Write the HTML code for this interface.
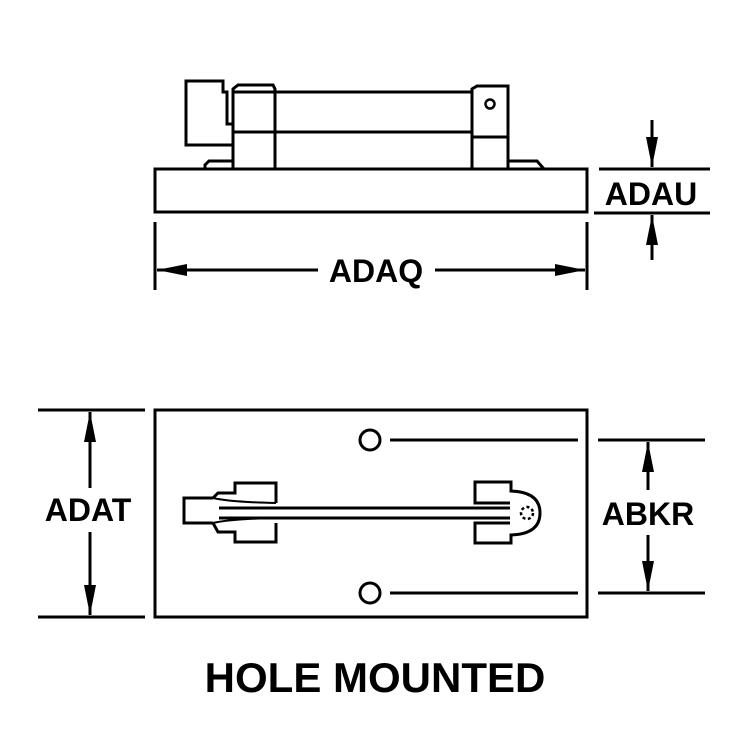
<!DOCTYPE html>
<html><head><style>body{margin:0;background:#fff}svg{display:block}text{font-family:"Liberation Sans",sans-serif;font-weight:bold;fill:#000}</style></head>
<body>
<svg width="752" height="752" viewBox="0 0 752 752" xmlns="http://www.w3.org/2000/svg">
<defs>
<marker id="a" viewBox="0 0 30 12" refX="30" refY="6" markerWidth="30" markerHeight="12" markerUnits="userSpaceOnUse" orient="auto"><path d="M0,0L30,6L0,12z"/></marker>
</defs>
<g fill="none" stroke="#000" stroke-width="3">
<rect x="155" y="169" width="432" height="43"/>
<path d="M233,145H186V81H223V92H227V124H233"/>
<path d="M233,169V89L238,85H273L275,89V169"/>
<path d="M233,92H472M233,132H472"/>
<path d="M472,169V89L477,86H508V169M472,137H508"/>
<circle cx="490" cy="104" r="4.5" stroke-width="2.5"/>
<path d="M205,169V165L209,161H233M508,161H537L544,169"/>
<rect x="155" y="410" width="432" height="207"/>
<circle cx="370" cy="440" r="10"/>
<circle cx="370" cy="593" r="10"/>
<path d="M390,440H578M390,593H578"/>
<path d="M213,498H184V523H213"/>
<path d="M213,498L218,493H235V483H276V503M276,523V542H235V532H218L213,523"/>
<path d="M213,498Q230,502 276,503M213,523Q230,519 276,518" stroke-width="2"/>
<path d="M219,508H510M219,518H510"/>
<path d="M510,503H475V482H511V491Q540,492 540,513Q540,534 511,535V543H475V523H510"/>
<circle cx="527" cy="513" r="6" stroke-width="2.5" stroke-dasharray="3,2.5"/>
<path d="M599,169H710M594,213H710M155,222V290M587,222V290M38,410H145M38,617H145M598,440H705M598,593H705"/>
</g>
<g stroke="#000" stroke-width="3" fill="none">
<path d="M652,120V167" marker-end="url(#a)"/>
<path d="M652,260V215" marker-end="url(#a)"/>
<path d="M318,270H157" marker-end="url(#a)"/>
<path d="M435,270H585" marker-end="url(#a)"/>
<path d="M90,488V412" marker-end="url(#a)"/>
<path d="M90,532V615" marker-end="url(#a)"/>
<path d="M648,490V442" marker-end="url(#a)"/>
<path d="M648,535V591" marker-end="url(#a)"/>
</g>
<g font-size="32" text-anchor="middle">
<text x="651" y="205">ADAU</text>
<text x="376" y="282">ADAQ</text>
<text x="88" y="521">ADAT</text>
<text x="648" y="525">ABKR</text>
<text x="375" y="692" font-size="42">HOLE MOUNTED</text>
</g>
</svg>
</body></html>
